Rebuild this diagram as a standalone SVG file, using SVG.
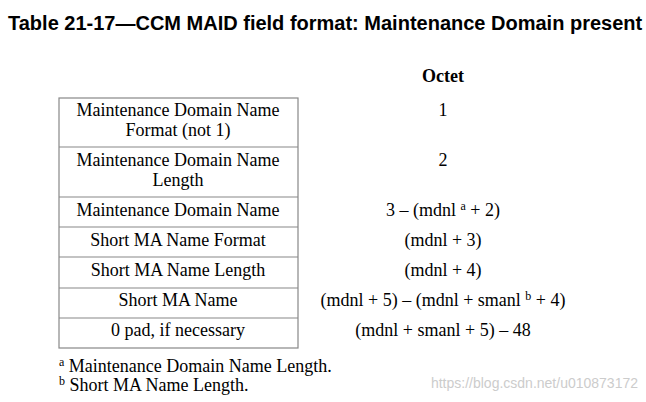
<svg xmlns="http://www.w3.org/2000/svg" width="646" height="402" viewBox="0 0 646 402">
<style>
.t{font-family:"Liberation Serif",serif;font-size:18px;fill:#000;text-anchor:middle}
.l{stroke:#888;stroke-width:1.2;fill:none}
</style>
<rect width="646" height="402" fill="#fff"/>
<text x="8" y="30" style="font-family:'Liberation Sans',sans-serif;font-size:20px;font-weight:bold">Table 21-17—CCM MAID field format: Maintenance Domain present</text>
<text x="443" y="82" class="t" font-weight="bold">Octet</text>
<g id="table">
<rect class="l" x="59" y="98" width="239" height="250"/>
<path class="l" d="M59 147H298M59 197H298M59 227H298M59 257H298M59 288H298M59 318H298"/>
</g>
<g id="r1"><text class="t" x="178" y="116">Maintenance Domain Name</text><text class="t" x="178" y="136">Format (not 1)</text><text class="t" x="443" y="116">1</text></g>
<g id="r2"><text class="t" x="178" y="166">Maintenance Domain Name</text><text class="t" x="178" y="186">Length</text><text class="t" x="443" y="166">2</text></g>
<g id="r3"><text class="t" x="178" y="216">Maintenance Domain Name</text><text class="t" x="443" y="216">3 – (mdnl <tspan font-size="12" dy="-6">a</tspan><tspan dy="6"> + 2)</tspan></text></g>
<g id="r4"><text class="t" x="178" y="246">Short MA Name Format</text><text class="t" x="443" y="246">(mdnl + 3)</text></g>
<g id="r5"><text class="t" x="178" y="276">Short MA Name Length</text><text class="t" x="443" y="276">(mdnl + 4)</text></g>
<g id="r6"><text class="t" x="178" y="306">Short MA Name</text><text class="t" x="443" y="306">(mdnl + 5) – (mdnl + smanl <tspan font-size="12" dy="-6">b</tspan><tspan dy="6"> + 4)</tspan></text></g>
<g id="r7"><text class="t" x="178" y="336">0 pad, if necessary</text><text class="t" x="443" y="336">(mdnl + smanl + 5) – 48</text></g>
<text x="59" y="372" style="font-family:'Liberation Serif',serif;font-size:18px"><tspan font-size="12" dy="-6">a</tspan><tspan dy="6"> Maintenance Domain Name Length.</tspan></text>
<text x="59" y="391" style="font-family:'Liberation Serif',serif;font-size:18px"><tspan font-size="12" dy="-6">b</tspan><tspan dy="6"> Short MA Name Length.</tspan></text>
<text x="638" y="388" style="font-family:'Liberation Sans',sans-serif;font-size:14px;fill:#ccc;text-anchor:end">https://blog.csdn.net/u010873172</text>
</svg>
